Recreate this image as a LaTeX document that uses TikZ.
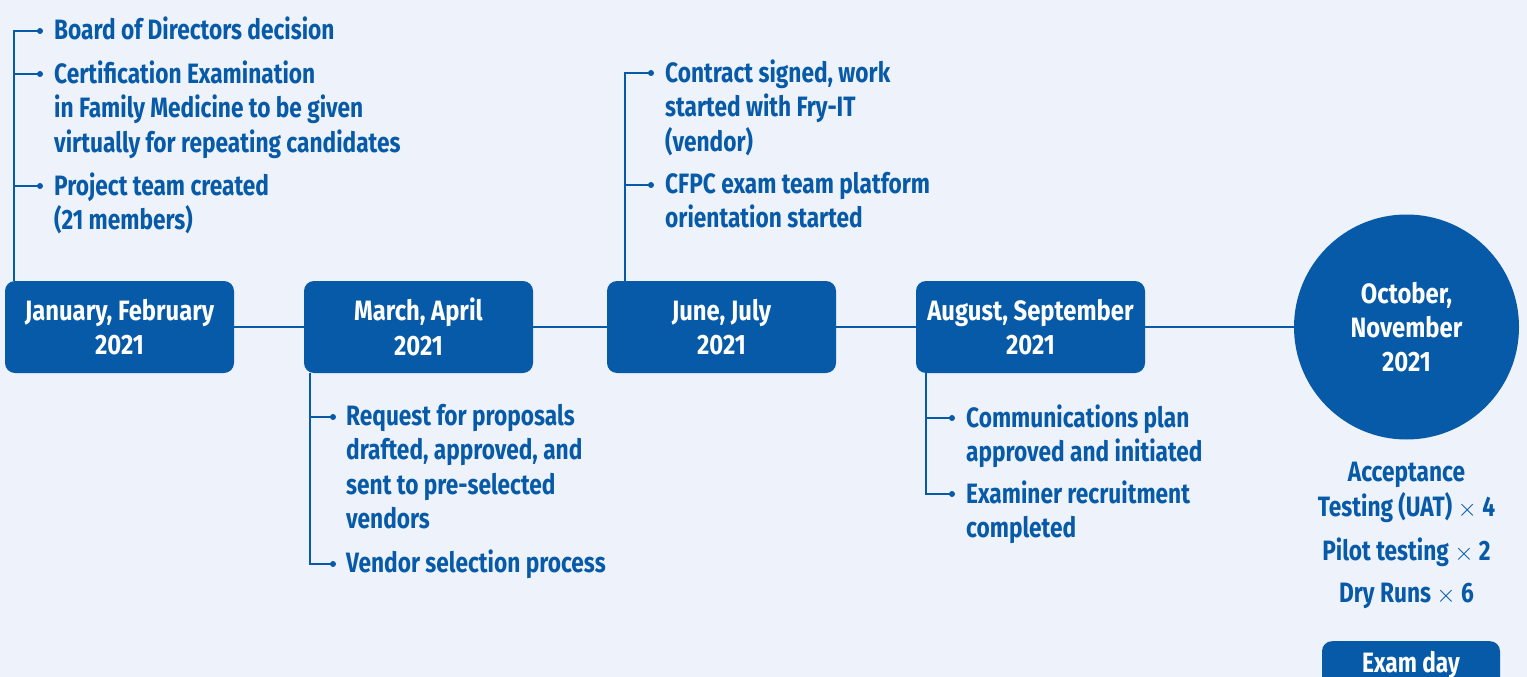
\documentclass[tikz,border=0pt]{standalone}
\usepackage{fontspec}
\setmainfont{Fira Sans}[FakeStretch=0.81]
\newfontfamily\boxfont{Fira Sans}[FakeStretch=0.85]
\definecolor{bg}{RGB}{238,242,250}
\definecolor{tlblue}{RGB}{6,90,168}
\newcommand{\bigtimes}{{\fontsize{35}{35}\selectfont$\times$}}
\begin{document}
\begin{tikzpicture}[x=1pt,y=-1pt,
  font=\bfseries\fontsize{28}{34.5}\selectfont,
  period/.style={fill=tlblue, rounded corners=10pt, minimum width=229pt, minimum height=92pt,
    text=white, align=center, inner sep=0pt, font=\boxfont\bfseries\fontsize{28}{34.5}\selectfont},
  item/.style={text=tlblue, align=left, anchor=base west, inner sep=0pt},
  note/.style={text=tlblue, align=center, anchor=base, inner sep=0pt},
  conn/.style={draw=tlblue, line width=2pt},
  bdot/.style={fill=tlblue}]
\fill[bg] (0,0) rectangle (1527,677);
\useasboundingbox (0,0) rectangle (1527,677);
\clip (0,0) rectangle (1527,677);

% period boxes
\node[period] (p1) at (119.5,327) {January, February\\2021};
\node[period] (p2) at (418.5,327) {March, April\\2021};
\node[period] (p3) at (721.5,327) {June, July\\2021};
\node[period] (p4) at (1030.5,327) {August, September\\2021};
\node[circle, fill=tlblue, text=white, align=center, minimum size=225pt, inner sep=0pt,
  font=\boxfont\bfseries\fontsize{28}{34}\selectfont] (p5) at (1406.5,327) {October,\\November\\2021};

% timeline
\draw[conn] (p1.east) -- (p2.west);
\draw[conn] (p2.east) -- (p3.west);
\draw[conn] (p3.east) -- (p4.west);
\draw[conn] (p4.east) -- (p5.west);

% group 1 (anchors at the baseline of the last line)
\node[item] (i1a) at (54,40) {Board of Directors decision};
\node[item] (i1b) at (54,152) {Certification Examination\\in Family Medicine to be given\\virtually for repeating candidates};
\node[item] (i1c) at (54,229.5) {Project team created\\(21 members)};
\coordinate (d1a) at (40,31);
\coordinate (d1b) at (40,74);
\coordinate (d1c) at (40,186);
\coordinate (v1) at (14,0);
\draw[conn] (p1.north -| v1) |- (d1a);
\draw[conn] (d1b -| v1) -- (d1b);
\draw[conn] (d1c -| v1) -- (d1c);
\foreach \d in {d1a,d1b,d1c} \fill[bdot] (\d) circle (3pt);

% group 2
\node[item] (i2a) at (346,528.5) {Request for proposals\\drafted, approved, and\\sent to pre-selected\\vendors};
\node[item] (i2b) at (346,572) {Vendor selection process};
\coordinate (d2a) at (333,417);
\coordinate (d2b) at (333,564);
\coordinate (v2) at (310,0);
\draw[conn] (p2.south -| v2) |- (d2b);
\draw[conn] (d2a -| v2) -- (d2a);
\foreach \d in {d2a,d2b} \fill[bdot] (\d) circle (3pt);

% group 3
\node[item] (i3a) at (665,151) {Contract signed, work\\started with Fry-IT\\(vendor)};
\node[item] (i3b) at (665,227.5) {CFPC exam team platform\\orientation started};
\coordinate (d3a) at (651,73);
\coordinate (d3b) at (651,185);
\coordinate (v3) at (625,0);
\draw[conn] (p3.north -| v3) |- (d3a);
\draw[conn] (d3b -| v3) -- (d3b);
\foreach \d in {d3a,d3b} \fill[bdot] (\d) circle (3pt);

% group 4
\node[item] (i4a) at (966,461.5) {Communications plan\\approved and initiated};
\node[item] (i4b) at (966,537.5) {Examiner recruitment\\completed};
\coordinate (d4a) at (952,418);
\coordinate (d4b) at (952,494);
\coordinate (v4) at (926,0);
\draw[conn] (p4.south -| v4) |- (d4b);
\draw[conn] (d4a -| v4) -- (d4a);
\foreach \d in {d4a,d4b} \fill[bdot] (\d) circle (3pt);

% right column
\node[note] (uat) at (1406.5,516) {Acceptance\\Testing (UAT) \bigtimes\ 4};
\node[note] (pilot) at (1406.5,560) {Pilot testing \bigtimes\ 2};
\node[note] (dry) at (1406.5,602) {Dry Runs \bigtimes\ 6};
\node[fill=tlblue, rounded corners=10pt, minimum width=178pt, minimum height=70pt, anchor=north, inner sep=0pt] (exam) at (1411,641) {};
\node[anchor=base, text=white, inner sep=0pt] (examtxt) at (1411,672) {Exam day};
\end{tikzpicture}
\end{document}
